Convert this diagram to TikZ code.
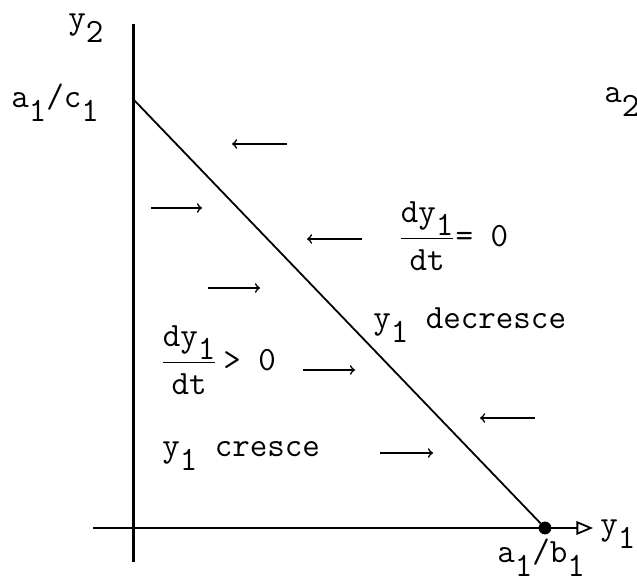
\documentclass[tikz,border=0pt]{standalone}
\usetikzlibrary{arrows}
\newcommand{\lo}[1]{\raisebox{-0.9ex}{#1}}

\begin{document}
\begin{tikzpicture}[x=0.5pt, y=-0.5pt, font=\fontsize{17}{20}\ttfamily,
  lbl/.style={anchor=base west, inner sep=0pt},
  flow/.style={->, line width=0.8pt}]
\useasboundingbox (0, 0) rectangle (637, 581);

\coordinate (top) at (133, 24);
\coordinate (bot) at (133, 562);
\coordinate (left) at (93, 528);
\coordinate (tip) at (593, 528);
\coordinate (p01) at (134, 100);
\node[circle,draw,fill=black,inner sep=0pt,minimum size=6pt] (p10) at (545, 528) {};

\draw[line width=1.5pt] (bot) -- (top);
\draw[line width=0.9pt] (left) -- (p10);
\draw[line width=0.9pt, -open triangle 45] (p10) -- (tip);
\draw[line width=0.9pt] (p01) -- (p10);

\node[lbl] (y2) at (68, 29) {y\lo{2}};
\node[lbl] (a1c1) at (11, 108) {a\lo{1}/c\lo{1}};
\node[lbl] (a2) at (604, 103) {a\lo{2}};
\node[lbl] (y1) at (600, 535) {y\lo{1}};
\node[lbl] (a1b1) at (497, 563) {a\lo{1}/b\lo{1}};

\node[lbl] (zero) at (398, 247) {$\displaystyle\frac{\hbox{dy\lo{1}}}{\hbox{dt}}$= 0};
\node[lbl] (pos) at (160, 371) {$\displaystyle\frac{\hbox{dy\lo{1}}}{\hbox{dt}}$\,> 0};
\node[lbl] (dec) at (373, 329) {y\lo{1} decresce};
\node[lbl] (cre) at (162, 457) {y\lo{1} cresce};

\foreach \xa/\xb/\y in {287/232/144, 151/202/208, 362/307/239, 208/260/288,
                        303/355/370, 535/480/418, 380/433/453}
  \draw[flow] (\xa, \y) -- (\xb, \y);

\end{tikzpicture}
\end{document}
